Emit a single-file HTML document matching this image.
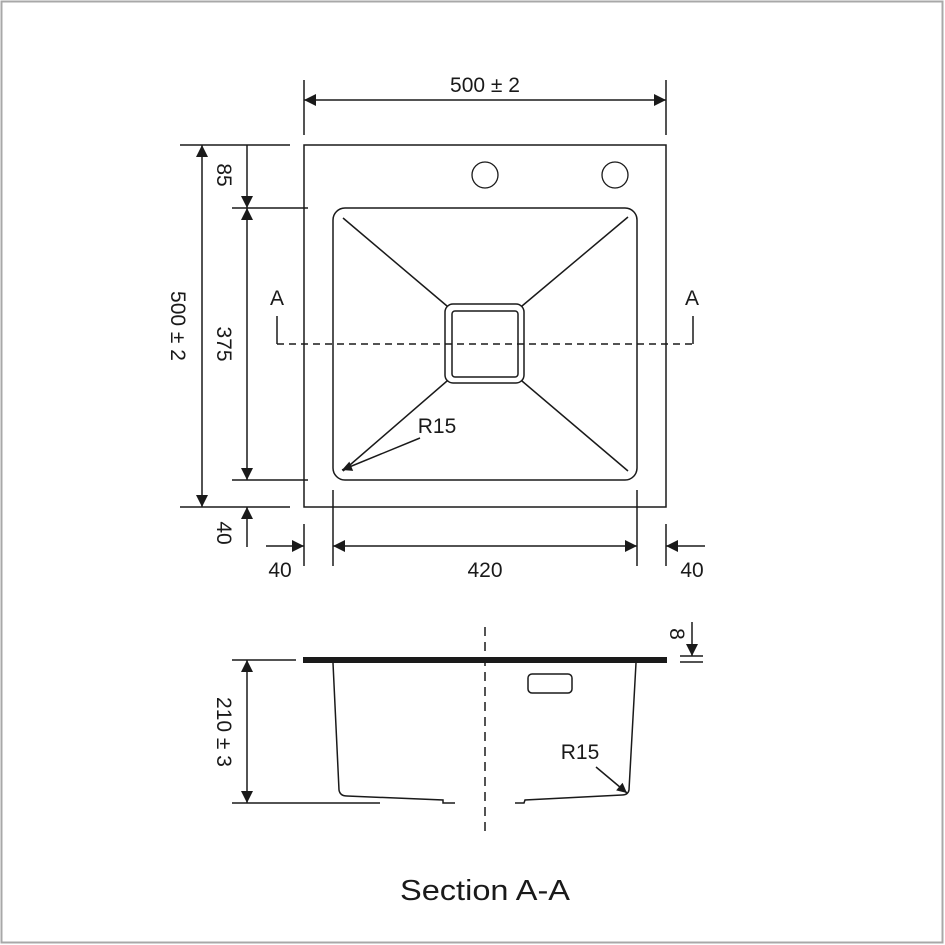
<!DOCTYPE html>
<html><head><meta charset="utf-8"><style>
html,body{margin:0;padding:0;background:#fff;}
svg{display:block;}
text{font-family:"Liberation Sans",sans-serif;fill:#1a1a1a;}
</style></head><body>
<svg width="945" height="945" viewBox="0 0 945 945" xmlns="http://www.w3.org/2000/svg">
<defs>
<marker id="ar" viewBox="0 0 10 10" refX="10" refY="5" markerWidth="16" markerHeight="12" markerUnits="userSpaceOnUse" orient="auto-start-reverse">
<path d="M0,0 L10,5 L0,10 z" fill="#1a1a1a"/>
</marker>
<marker id="ar2" viewBox="0 0 10 10" refX="10" refY="5" markerWidth="16" markerHeight="10" markerUnits="userSpaceOnUse" orient="auto">
<path d="M0,0 L10,5 L0,10 z" fill="#1a1a1a"/>
</marker>
</defs>
<rect x="1.5" y="1.5" width="941" height="941" fill="#fff" stroke="#a8a8a8" stroke-width="2"/>
<g stroke="#1a1a1a" stroke-width="1.5" fill="none">
<rect x="304" y="145" width="362" height="362"/>
<rect x="333" y="208" width="304" height="272" rx="12"/>
<circle cx="485" cy="175" r="13" stroke-width="1.3"/>
<circle cx="615" cy="175" r="13" stroke-width="1.3"/>
<rect x="445" y="304" width="79" height="79" rx="8"/>
<rect x="452" y="311" width="66" height="66" rx="3"/>
<line x1="343" y1="218" x2="447" y2="306"/>
<line x1="628" y1="217" x2="522" y2="306"/>
<line x1="343" y1="471" x2="447" y2="381"/>
<line x1="628" y1="471" x2="522" y2="381"/>
<line x1="277" y1="344" x2="693" y2="344" stroke-dasharray="7,5"/>
<line x1="277" y1="316" x2="277" y2="344"/>
<line x1="693" y1="316" x2="693" y2="344"/>
<line x1="304" y1="80" x2="304" y2="135"/>
<line x1="666" y1="80" x2="666" y2="135"/>
<line x1="304" y1="100" x2="666" y2="100" marker-start="url(#ar)" marker-end="url(#ar)"/>
<line x1="180" y1="145" x2="290" y2="145"/>
<line x1="180" y1="507" x2="290" y2="507"/>
<line x1="232" y1="208" x2="308" y2="208"/>
<line x1="232" y1="480" x2="308" y2="480"/>
<line x1="202" y1="145" x2="202" y2="507" marker-start="url(#ar)" marker-end="url(#ar)"/>
<line x1="247" y1="145" x2="247" y2="208" marker-end="url(#ar)"/>
<line x1="247" y1="208" x2="247" y2="480" marker-start="url(#ar)" marker-end="url(#ar)"/>
<line x1="247" y1="547" x2="247" y2="507" marker-end="url(#ar)"/>
<line x1="304" y1="524" x2="304" y2="566"/>
<line x1="333" y1="490" x2="333" y2="566"/>
<line x1="637" y1="490" x2="637" y2="566"/>
<line x1="666" y1="524" x2="666" y2="566"/>
<line x1="266" y1="546" x2="304" y2="546" marker-end="url(#ar)"/>
<line x1="333" y1="546" x2="637" y2="546" marker-start="url(#ar)" marker-end="url(#ar)"/>
<line x1="705" y1="546" x2="666" y2="546" marker-end="url(#ar)"/>
<line x1="420" y1="438" x2="342" y2="470" marker-end="url(#ar2)"/>
<line x1="485" y1="627" x2="485" y2="835" stroke-dasharray="9,6"/>
<path d="M333,663 L339,790 Q340,796 347,796 L443,800 L443,803 L455,803"/>
<path d="M636,663 L629,790 Q628,795 622,795 L525,800 L524,803 L515,803"/>
<rect x="528" y="674" width="44" height="19" rx="4"/>
<line x1="232" y1="660" x2="296" y2="660"/>
<line x1="232" y1="803" x2="380" y2="803"/>
<line x1="247" y1="660" x2="247" y2="803" marker-start="url(#ar)" marker-end="url(#ar)"/>
<line x1="692" y1="622" x2="692" y2="656" marker-end="url(#ar)"/>
<line x1="680" y1="656" x2="703" y2="656"/>
<line x1="680" y1="662" x2="703" y2="662"/>
<line x1="596" y1="767" x2="627" y2="793" marker-end="url(#ar2)"/>
</g>
<rect x="303" y="657" width="364" height="6" fill="#1a1a1a"/>
<g font-size="21">
<text x="485" y="92" text-anchor="middle">500 ± 2</text>
<text x="277" y="305" text-anchor="middle">A</text>
<text x="692" y="305" text-anchor="middle">A</text>
<text x="437" y="433" text-anchor="middle">R15</text>
<text x="280" y="577" text-anchor="middle">40</text>
<text x="485" y="577" text-anchor="middle">420</text>
<text x="692" y="577" text-anchor="middle">40</text>
<text x="580" y="759" text-anchor="middle">R15</text>
<text transform="translate(171,326) rotate(90)" text-anchor="middle">500 ± 2</text>
<text transform="translate(217,175) rotate(90)" text-anchor="middle">85</text>
<text transform="translate(217,344) rotate(90)" text-anchor="middle">375</text>
<text transform="translate(217,533) rotate(90)" text-anchor="middle">40</text>
<text transform="translate(217,732) rotate(90)" text-anchor="middle">210 ± 3</text>
<text transform="translate(670,634) rotate(90)" text-anchor="middle">8</text>
</g>
<text x="400" y="900" font-size="29" textLength="170" lengthAdjust="spacingAndGlyphs">Section A-A</text>
</svg>
</body></html>
